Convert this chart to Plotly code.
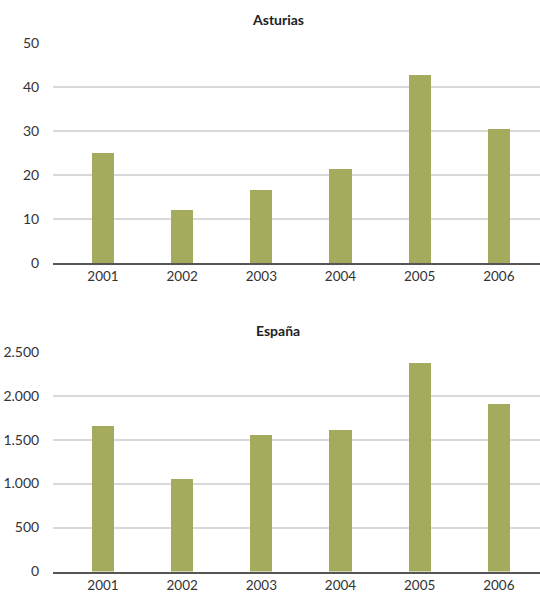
import plotly.graph_objects as go
from plotly.subplots import make_subplots

years = ["2001", "2002", "2003", "2004", "2005", "2006"]
asturias = [25.0, 12.0, 16.6, 21.4, 42.7, 30.5]
espana = [1657, 1055, 1555, 1611, 2372, 1906]
titles = ["Asturias", "España"]

BAR = "#a5ab5d"
FONT = "Lato, 'Open Sans', sans-serif"
H = 594.0

fig = make_subplots(rows=2, cols=1)
fig.add_trace(go.Bar(x=years, y=asturias, marker_color=BAR, marker_line_width=0,
                     width=0.28), row=1, col=1)
fig.add_trace(go.Bar(x=years, y=espana, marker_color=BAR, marker_line_width=0,
                     width=0.28), row=2, col=1)

# plot-area extents in pixels (top, bottom)
areas = [(42.7, 263.0), (351.7, 571.5)]
for i, (top, bot) in enumerate(areas, start=1):
    dom = [1 - bot / H, 1 - top / H]
    fig.update_yaxes(domain=dom, row=i, col=1)

fig.update_xaxes(
    type="category", range=[-0.632, 5.52], showgrid=False, automargin=False,
    showline=True, linecolor="#555555", linewidth=2,
    ticks="", tickfont=dict(family=FONT, size=13.5, color="#333333"),
)
fig.update_yaxes(
    showgrid=True, gridcolor="#d9d9d9", gridwidth=1.5, automargin=False,
    zeroline=False, showline=False,
    ticks="outside", ticklen=10, tickcolor="rgba(0,0,0,0)",
    tickfont=dict(family=FONT, size=14, color="#333333"),
)
fig.update_yaxes(range=[0, 50], tick0=0, dtick=10, row=1, col=1)
fig.update_yaxes(range=[0, 2500], tick0=0, dtick=500, tickformat=",d", row=2, col=1)

for title, top in zip(titles, [20.0, 330.7]):
    fig.add_annotation(
        text=f"<b>{title}</b>", xref="paper", yref="paper",
        x=(278 - 53) / 487.0, y=1 - top / H, showarrow=False,
        xanchor="center", yanchor="middle",
        font=dict(family=FONT, size=14, color="#222222"),
    )

fig.update_layout(
    width=540, height=594,
    margin=dict(l=53, r=0, t=0, b=0),
    paper_bgcolor="white", plot_bgcolor="white",
    showlegend=False, separators=",.", bargap=0,
)

fig.write_html("out.html")
